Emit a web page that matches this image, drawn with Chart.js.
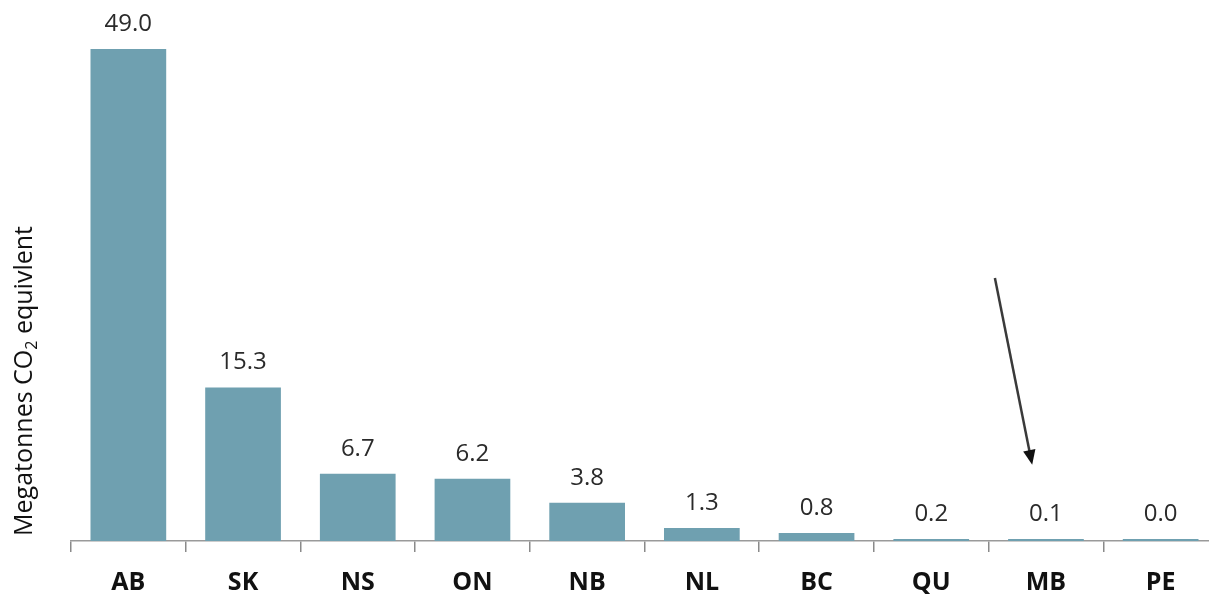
<!DOCTYPE html>
<html>
<head>
<meta charset="utf-8">
<script src="https://cdn.jsdelivr.net/npm/chart.js@4.4.1/dist/chart.umd.min.js"></script>
<style>
  html, body { margin: 0; padding: 0; background: #fff; overflow: hidden; }
  #wrap { width: 1218px; height: 594px; }
</style>
</head>
<body>
<div id="wrap"><canvas id="emissions" width="1218" height="594"></canvas></div>
<script>
  // Provinces and their emissions (Mt CO2e)
  const provinces = ['AB', 'SK', 'NS', 'ON', 'NB', 'NL', 'BC', 'QU', 'MB', 'PE'];
  const emissions = [49.0, 15.3, 6.7, 6.2, 3.8, 1.3, 0.8, 0.2, 0.1, 0.0];

  // Arrow pointing down at MB, in data units (category index, value)
  const arrowFrom = { x: 7.555, y: 26.2 };
  const arrowTo = { x: 7.88, y: 7.6 };

  const FONT = '"Open Sans", sans-serif';

  // Values written above each bar
  const valueLabels = {
    id: 'valueLabels',
    afterDatasetsDraw(chart) {
      const ctx = chart.ctx;
      const meta = chart.getDatasetMeta(0);
      ctx.save();
      ctx.font = '24px ' + FONT;
      ctx.fillStyle = '#2a2a2a';
      ctx.textAlign = 'center';
      ctx.textBaseline = 'alphabetic';
      meta.data.forEach((bar, i) => {
        ctx.fillText(emissions[i].toFixed(1), bar.x, bar.y - 18);
      });
      ctx.restore();
    }
  };

  // Rotated axis title with subscript 2
  const yTitle = {
    id: 'yTitle',
    afterDraw(chart) {
      const ctx = chart.ctx;
      const parts = ['Megatonnes CO', '2', ' equivlent'];
      ctx.save();
      ctx.translate(32, 381);
      ctx.rotate(-Math.PI / 2);
      ctx.fillStyle = '#111';
      ctx.textBaseline = 'alphabetic';
      const big = '25px ' + FONT;
      const small = '16px ' + FONT;
      ctx.font = big;
      const w0 = ctx.measureText(parts[0]).width;
      const w2 = ctx.measureText(parts[2]).width;
      ctx.font = small;
      const w1 = ctx.measureText(parts[1]).width;
      let x = -(w0 + w1 + w2) / 2;
      ctx.font = big;
      ctx.fillText(parts[0], x, 0);
      x += w0;
      ctx.font = small;
      ctx.fillText(parts[1], x, 5);
      x += w1;
      ctx.font = big;
      ctx.fillText(parts[2], x, 0);
      ctx.restore();
    }
  };

  // Arrow annotation placed through the scales
  const arrow = {
    id: 'arrow',
    afterDraw(chart) {
      const xs = chart.scales.x, ys = chart.scales.y;
      const x1 = xs.getPixelForValue(arrowFrom.x), y1 = ys.getPixelForValue(arrowFrom.y);
      const x2 = xs.getPixelForValue(arrowTo.x), y2 = ys.getPixelForValue(arrowTo.y);
      const ang = Math.atan2(y2 - y1, x2 - x1);
      const head = 16, half = 0.4;
      const ctx = chart.ctx;
      ctx.save();
      ctx.strokeStyle = '#3a3a3a';
      ctx.fillStyle = '#111';
      ctx.lineWidth = 2.5;
      ctx.beginPath();
      ctx.moveTo(x1, y1);
      ctx.lineTo(x2 - Math.cos(ang) * head * 0.8, y2 - Math.sin(ang) * head * 0.8);
      ctx.stroke();
      ctx.beginPath();
      ctx.moveTo(x2, y2);
      ctx.lineTo(x2 - head * Math.cos(ang - half), y2 - head * Math.sin(ang - half));
      ctx.lineTo(x2 - head * Math.cos(ang + half), y2 - head * Math.sin(ang + half));
      ctx.closePath();
      ctx.fill();
      ctx.restore();
    }
  };

  const ctx = document.getElementById('emissions').getContext('2d');
  new Chart(ctx, {
    type: 'bar',
    data: {
      labels: provinces,
      datasets: [{
        data: emissions,
        backgroundColor: '#6fa0b0',
        borderWidth: 0,
        minBarLength: 2,
        categoryPercentage: 0.66,
        barPercentage: 1
      }]
    },
    options: {
      responsive: false,
      animation: false,
      layout: { padding: { left: 71, top: 49, right: 0, bottom: 0 } },
      plugins: {
        legend: { display: false },
        tooltip: { enabled: false }
      },
      scales: {
        x: {
          afterFit(scale) { scale.height = 53; },
          grid: {
            display: true,
            offset: true,
            drawOnChartArea: false,
            drawTicks: true,
            tickLength: 11,
            color: '#8a8a8a',
            lineWidth: 1.5
          },
          border: { display: true, color: '#9a9a9a', width: 1.5 },
          ticks: {
            color: '#111',
            font: { family: FONT, size: 25, weight: 'bold' },
            padding: 16
          }
        },
        y: {
          display: false,
          min: 0,
          max: 49
        }
      }
    },
    plugins: [valueLabels, yTitle, arrow]
  });
</script>
</body>
</html>
